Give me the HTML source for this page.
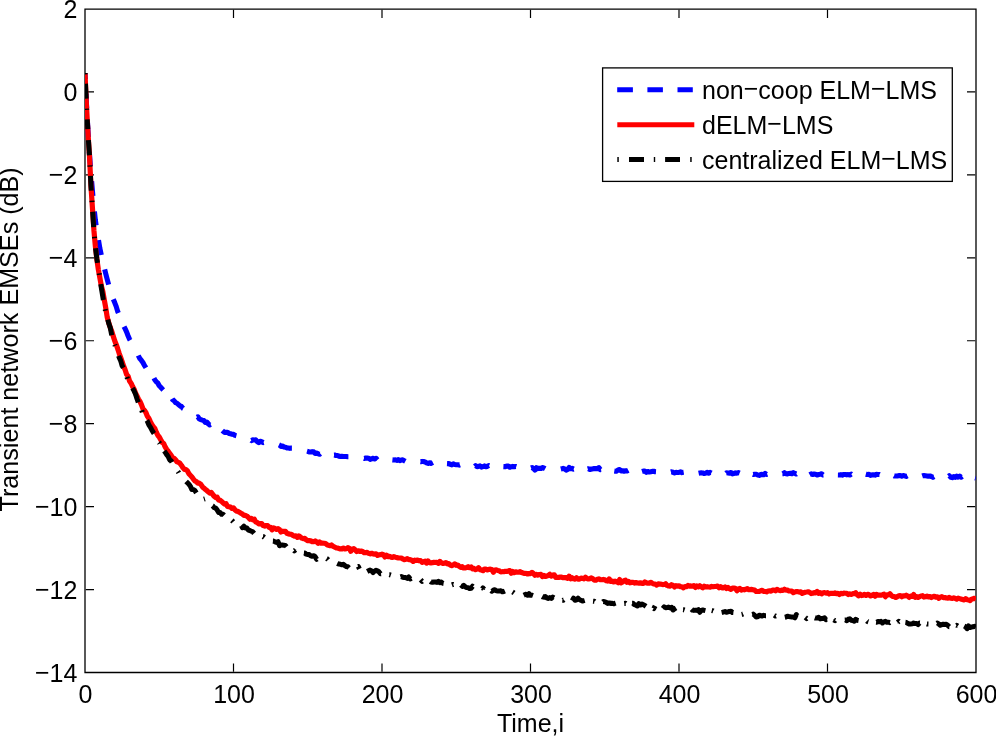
<!DOCTYPE html>
<html><head><meta charset="utf-8"><style>
html,body{margin:0;padding:0;background:#fff;}
svg{display:block;}
</style></head><body>
<svg width="996" height="737" viewBox="0 0 996 737">
<defs><clipPath id="ax"><rect x="85.0" y="9.0" width="891.0" height="663.5"/></clipPath></defs>
<rect x="0" y="0" width="996" height="737" fill="#fff"/>
<path d="M85.0 9.15H976.0V672.5H85.0Z" fill="none" stroke="#000" stroke-width="1.3"/>
<path d="M233.50 671.80 V663.50 M233.50 9.75 V18.00 M382.00 671.80 V663.50 M382.00 9.75 V18.00 M530.50 671.80 V663.50 M530.50 9.75 V18.00 M679.00 671.80 V663.50 M679.00 9.75 V18.00 M827.50 671.80 V663.50 M827.50 9.75 V18.00 M85.75 91.94 H94.00 M975.25 91.94 H967.00 M85.75 174.88 H94.00 M975.25 174.88 H967.00 M85.75 257.81 H94.00 M975.25 257.81 H967.00 M85.75 340.75 H94.00 M975.25 340.75 H967.00 M85.75 423.69 H94.00 M975.25 423.69 H967.00 M85.75 506.62 H94.00 M975.25 506.62 H967.00 M85.75 589.56 H94.00 M975.25 589.56 H967.00" stroke="#000" stroke-width="1.2" fill="none"/>
<g fill="none" stroke-linejoin="round" clip-path="url(#ax)">
<path d="M85.00 73.09L85.30 79.24M85.98 93.57L86.48 104.03L86.72 108.25M87.52 122.60L87.97 130.75L88.39 137.19M89.33 151.91L89.45 153.77L90.39 166.16M91.62 181.25L92.42 190.62L92.91 195.95M94.42 211.43L95.39 220.21L96.12 225.47M98.50 240.04L99.85 248.31L101.31 254.98M104.67 269.47L105.79 273.77L107.28 279.69L108.63 284.60M113.31 299.30L114.70 302.58L116.19 306.39L117.67 311.36L118.37 312.93M124.02 326.55L125.09 328.74L126.58 331.85L128.06 335.77L129.55 339.28L130.14 340.25M138.26 355.50L138.46 355.91L139.94 358.68L141.43 360.49L142.91 362.53L144.40 365.40L145.88 367.59L145.96 367.72M153.93 378.08L154.80 379.73L156.28 381.79L157.76 382.96L159.25 385.78L160.74 387.23L162.22 388.85L163.24 389.92M172.08 398.77L172.62 399.67L174.10 400.75L175.58 402.58L177.07 403.23L178.56 404.64L180.04 405.98L181.53 406.50L183.01 408.33L183.25 408.45M197.00 417.31L197.86 416.84L199.34 418.93L200.83 419.57L202.31 420.12L203.80 420.50L205.28 422.45L206.77 422.02L208.25 423.75L209.74 424.92L210.80 424.46M222.30 430.57L223.10 431.27L224.59 432.35L226.07 432.37L227.56 432.36L229.04 433.42L230.53 433.78L232.01 434.18L233.50 434.39L234.99 435.41L236.40 435.79M251.30 440.54L251.32 440.56L252.81 439.89L254.29 439.98L255.78 439.84L257.26 441.58L258.75 442.55L260.23 441.20L261.72 441.63L263.20 442.59L263.70 442.46M279.00 444.80L279.53 445.04L281.02 446.46L282.50 446.06L283.99 446.95L285.48 447.23L286.96 447.91L288.44 447.95L289.93 448.35L291.41 448.08L291.90 448.08M307.00 451.14L307.75 451.34L309.24 452.03L310.72 452.03L312.21 451.67L313.69 451.87L315.18 453.47L316.66 453.08L318.14 453.85L319.63 454.23L320.40 453.59M334.00 454.96L334.48 454.93L335.97 455.55L337.45 455.43L338.94 456.15L340.42 456.42L341.90 456.33L343.39 456.50L344.88 456.54L346.36 456.43L347.85 456.72L348.40 456.72M364.00 458.35L364.18 458.42L365.67 458.09L367.15 457.95L368.63 458.17L370.12 459.34L371.61 458.80L373.09 458.28L374.57 458.95L376.06 458.25L377.40 459.82M392.40 459.85L393.88 460.01L395.37 459.86L396.85 460.32L398.33 459.63L399.82 460.59L401.31 460.05L402.79 459.87L404.27 460.72L405.40 461.32M420.50 461.66L420.61 461.68L422.10 461.42L423.58 461.52L425.06 461.92L426.55 462.92L428.04 463.44L429.52 462.69L431.00 463.34L432.49 462.75L432.90 462.55M447.00 463.58L447.34 463.60L448.82 463.61L450.31 464.38L451.80 464.84L453.28 463.87L454.76 464.54L456.25 464.78L457.74 464.81L459.22 465.12L460.00 464.83M474.70 466.40L475.56 465.65L477.04 466.62L478.52 466.43L480.01 465.88L481.50 467.11L482.98 466.67L484.46 465.92L485.95 466.80L487.44 466.28L488.92 465.55L489.20 465.66M503.40 466.63L503.77 466.65L505.25 466.77L506.74 465.97L508.23 466.15L509.71 467.26L511.19 466.68L512.68 466.42L514.16 466.79L515.65 466.47L516.30 466.68M531.00 467.92L531.99 467.56L533.47 468.43L534.95 470.13L536.44 467.74L537.92 468.58L539.41 468.29L540.89 468.57L542.38 467.60L543.87 467.96L545.20 468.71M560.80 469.04L561.68 468.83L563.17 468.40L564.65 468.90L566.14 470.12L567.62 469.44L569.11 467.42L570.60 468.75L572.08 468.39L573.57 469.14L573.60 469.13M587.70 468.90L588.41 468.69L589.90 469.51L591.38 468.98L592.87 468.85L594.36 468.51L595.84 468.65L597.33 468.66L598.81 467.64L600.29 469.63L601.10 469.55M614.30 471.07L615.14 471.20L616.63 471.10L618.12 469.90L619.60 469.46L621.09 470.91L622.57 470.70L624.05 471.23L625.54 470.74L627.02 470.97L628.30 470.28M642.00 471.53L643.36 471.09L644.85 471.11L646.33 472.32L647.82 471.44L649.30 472.03L650.78 471.77L652.27 471.33L653.75 471.27L655.24 471.74L656.00 471.79M670.90 472.00L671.58 471.81L673.06 472.28L674.54 472.91L676.03 472.35L677.51 472.43L679.00 472.44L680.49 471.93L681.97 472.63L683.46 472.31L683.70 472.27M698.60 473.22L699.79 472.97L701.27 472.84L702.76 472.94L704.25 473.57L705.73 473.16L707.22 472.37L708.70 473.10L710.18 472.42L711.40 473.07M726.00 473.26L726.52 472.83L728.00 472.93L729.49 473.09L730.98 472.47L732.46 473.85L733.95 473.47L735.43 472.88L736.91 473.17L738.40 472.62L739.60 473.16M753.00 474.43L753.25 474.54L754.74 474.21L756.22 474.29L757.71 475.02L759.19 475.34L760.67 474.63L762.16 474.38L763.64 474.73L765.13 473.45L766.62 474.33L767.20 474.10M782.40 473.82L782.95 473.81L784.43 472.62L785.92 473.81L787.40 473.99L788.89 473.42L790.38 473.27L791.86 473.72L793.35 472.59L794.83 473.45L796.32 473.99L796.40 473.93M809.70 474.69L811.16 473.87L812.65 474.48L814.13 474.05L815.62 474.22L817.11 475.00L818.59 474.53L820.08 474.24L821.56 473.83L823.04 475.05L823.30 475.01M837.90 474.93L839.38 474.96L840.87 474.66L842.35 475.11L843.84 474.45L845.32 474.55L846.80 474.85L848.29 474.61L849.77 475.03L851.26 474.02L851.40 474.15M865.80 474.27L866.11 474.35L867.60 474.52L869.08 474.30L870.57 475.35L872.05 474.89L873.53 474.81L875.02 475.09L876.50 474.40L877.99 474.45L879.48 474.50L879.60 474.56M894.00 475.74L894.33 475.92L895.81 476.02L897.29 476.05L898.78 475.58L900.26 475.50L901.75 476.18L903.24 475.50L904.72 475.90L906.21 476.44L907.40 475.80M922.20 475.92L922.54 475.80L924.02 475.63L925.51 475.74L927.00 475.92L928.48 476.32L929.97 475.93L931.45 476.59L932.93 477.35L934.10 476.65M948.70 476.28L949.27 475.79L950.75 477.22L952.24 477.63L953.73 476.48L955.21 477.39L956.70 476.02L958.18 477.07L959.66 476.14L961.15 477.23L962.30 476.37M975.20 477.73L976.00 478.02" stroke="#0000ff" stroke-width="5.1"/>
<path d="M85.00 73.00L86.48 106.18L87.97 132.88L89.45 155.44L90.94 185.70L92.42 207.72L93.91 230.15L95.39 246.56L96.88 259.31L98.36 269.60L99.85 277.81L101.34 285.86L102.82 291.37L104.31 299.94L105.79 308.12L107.28 317.60L108.76 322.65L110.25 327.56L111.73 331.29L113.22 336.13L114.70 340.73L116.19 344.47L117.67 348.69L119.16 353.30L120.64 357.32L122.12 361.64L123.61 366.03L125.09 369.67L126.58 374.36L128.06 376.11L129.55 381.05L131.03 383.18L132.52 386.38L134.00 389.00L135.49 393.01L136.97 395.97L138.46 399.15L139.94 401.42L141.43 404.59L142.91 408.56L144.40 410.36L145.88 412.45L147.37 416.31L148.85 418.33L150.34 421.64L151.82 424.52L153.31 426.70L154.80 428.41L156.28 432.13L157.76 435.22L159.25 436.93L160.74 439.78L162.22 442.38L163.70 443.51L165.19 446.94L166.68 449.40L168.16 451.18L169.64 453.35L171.13 455.32L172.62 458.02L174.10 458.32L175.58 459.85L177.07 461.86L178.56 462.35L180.04 463.45L181.53 465.45L183.01 467.82L184.50 469.39L185.98 469.54L187.47 470.93L188.95 473.67L190.44 475.38L191.92 477.03L193.41 479.06L194.89 480.93L196.38 481.63L197.86 483.19L199.34 483.22L200.83 484.37L202.31 486.57L203.80 488.09L205.28 489.35L206.77 490.46L208.25 491.81L209.74 493.06L211.22 492.48L212.71 494.37L214.19 496.36L215.68 497.58L217.16 497.22L218.65 500.20L220.13 500.17L221.62 501.40L223.10 502.83L224.59 504.22L226.07 503.73L227.56 506.44L229.04 506.79L230.53 507.15L232.01 508.42L233.50 507.94L234.99 509.83L236.47 511.21L237.96 511.35L239.44 512.36L240.93 513.21L242.41 514.08L243.90 515.48L245.38 515.47L246.87 516.06L248.35 517.38L249.84 519.23L251.32 518.33L252.81 519.77L254.29 519.18L255.78 522.11L257.26 522.51L258.75 523.83L260.23 523.64L261.72 523.66L263.20 525.63L264.69 526.10L266.17 525.48L267.65 525.55L269.14 527.36L270.62 527.39L272.11 529.79L273.60 528.01L275.08 528.55L276.56 529.33L278.05 528.72L279.53 529.74L281.02 531.98L282.50 531.22L283.99 531.38L285.48 531.42L286.96 533.24L288.44 533.85L289.93 534.15L291.41 534.30L292.90 535.40L294.38 536.05L295.87 535.89L297.36 537.35L298.84 535.93L300.32 536.98L301.81 538.11L303.29 538.68L304.78 538.35L306.26 539.79L307.75 540.69L309.24 540.65L310.72 540.86L312.21 541.66L313.69 541.71L315.18 540.97L316.66 541.96L318.14 543.33L319.63 541.96L321.12 543.15L322.60 543.20L324.09 543.23L325.57 543.56L327.06 544.76L328.54 545.33L330.02 545.75L331.51 544.95L333.00 546.17L334.48 547.01L335.97 547.82L337.45 547.98L338.94 548.43L340.42 548.91L341.90 548.99L343.39 548.09L344.88 548.94L346.36 548.62L347.85 547.66L349.33 548.36L350.81 551.20L352.30 549.15L353.79 548.56L355.27 549.93L356.75 551.62L358.24 550.75L359.73 551.31L361.21 551.09L362.69 551.49L364.18 552.73L365.67 552.69L367.15 552.38L368.63 553.38L370.12 553.83L371.61 553.24L373.09 553.89L374.57 554.19L376.06 553.84L377.55 555.41L379.03 554.76L380.51 554.70L382.00 554.21L383.49 554.74L384.97 556.92L386.45 555.28L387.94 556.60L389.43 556.26L390.91 557.09L392.39 557.37L393.88 556.61L395.37 557.16L396.85 557.65L398.33 557.88L399.82 557.99L401.31 558.02L402.79 558.90L404.27 559.62L405.76 559.31L407.25 558.65L408.73 559.68L410.21 559.68L411.70 560.19L413.19 561.39L414.67 560.17L416.15 560.52L417.64 560.12L419.12 560.73L420.61 560.71L422.10 562.40L423.58 561.66L425.06 561.19L426.55 563.09L428.04 560.94L429.52 562.61L431.00 562.85L432.49 562.68L433.98 562.23L435.46 562.46L436.94 562.46L438.43 563.40L439.92 561.39L441.40 562.84L442.88 563.49L444.37 563.18L445.86 562.53L447.34 563.85L448.82 563.71L450.31 565.03L451.80 565.69L453.28 564.99L454.76 563.83L456.25 565.28L457.74 565.01L459.22 566.37L460.70 567.30L462.19 566.57L463.68 568.01L465.16 567.89L466.64 567.57L468.13 566.74L469.62 567.73L471.10 566.90L472.58 568.88L474.07 568.48L475.56 569.59L477.04 569.04L478.52 567.68L480.01 569.67L481.50 570.04L482.98 570.70L484.46 568.99L485.95 569.16L487.44 569.98L488.92 569.31L490.40 569.20L491.89 569.51L493.38 572.20L494.86 570.05L496.35 569.89L497.83 570.39L499.31 570.82L500.80 571.84L502.29 571.72L503.77 571.73L505.25 571.33L506.74 571.52L508.23 571.08L509.71 570.59L511.19 573.18L512.68 571.55L514.16 572.70L515.65 571.89L517.13 572.17L518.62 572.26L520.11 571.53L521.59 572.57L523.08 573.03L524.56 573.49L526.05 573.41L527.53 573.94L529.01 573.60L530.50 573.57L531.99 572.37L533.47 573.56L534.95 575.21L536.44 574.40L537.92 575.06L539.41 574.55L540.89 574.41L542.38 576.51L543.87 575.51L545.35 576.48L546.84 575.98L548.32 575.57L549.81 574.36L551.29 576.16L552.77 575.17L554.26 574.88L555.75 577.46L557.23 577.27L558.71 577.37L560.20 577.11L561.68 577.21L563.17 577.68L564.65 577.64L566.14 577.72L567.62 578.32L569.11 576.20L570.60 578.66L572.08 577.70L573.57 578.83L575.05 579.14L576.54 577.81L578.02 579.03L579.50 579.08L580.99 578.10L582.48 578.28L583.96 578.79L585.44 577.20L586.93 578.51L588.41 579.02L589.90 578.64L591.38 577.90L592.87 578.82L594.36 580.24L595.84 580.20L597.33 579.29L598.81 578.92L600.29 579.61L601.78 579.77L603.26 579.44L604.75 579.84L606.24 580.68L607.72 581.07L609.21 578.88L610.69 581.45L612.17 581.03L613.66 581.90L615.14 581.23L616.63 581.70L618.12 582.67L619.60 579.56L621.09 582.85L622.57 581.96L624.05 580.64L625.54 580.12L627.02 582.28L628.51 581.41L630.00 582.90L631.48 582.41L632.97 582.23L634.45 583.08L635.93 582.58L637.42 583.03L638.90 583.16L640.39 582.88L641.88 583.29L643.36 583.37L644.85 581.96L646.33 582.84L647.82 583.07L649.30 583.03L650.78 582.33L652.27 583.20L653.75 584.00L655.24 584.07L656.73 585.18L658.21 583.86L659.70 584.15L661.18 584.22L662.66 584.55L664.15 584.50L665.63 583.75L667.12 585.43L668.61 585.99L670.09 586.18L671.58 584.73L673.06 585.44L674.54 586.96L676.03 585.68L677.51 586.08L679.00 585.81L680.49 586.70L681.97 586.75L683.46 587.77L684.94 586.56L686.42 586.59L687.91 585.48L689.39 586.10L690.88 585.95L692.37 586.26L693.85 585.61L695.34 587.42L696.82 585.86L698.30 586.82L699.79 585.77L701.27 586.92L702.76 587.86L704.25 586.15L705.73 587.00L707.22 586.72L708.70 586.99L710.18 587.12L711.67 586.41L713.15 586.76L714.64 586.52L716.12 586.40L717.61 586.17L719.10 587.78L720.58 586.69L722.07 587.80L723.55 587.87L725.03 586.94L726.52 588.55L728.00 587.39L729.49 588.62L730.98 589.39L732.46 588.06L733.95 588.10L735.43 588.26L736.91 590.70L738.40 588.99L739.88 588.50L741.37 590.09L742.86 589.54L744.34 589.78L745.83 589.26L747.31 588.54L748.79 589.74L750.28 589.66L751.76 589.40L753.25 589.90L754.74 590.12L756.22 591.46L757.71 591.48L759.19 591.43L760.67 590.76L762.16 590.29L763.64 591.40L765.13 591.50L766.62 591.84L768.10 591.04L769.59 590.87L771.07 591.05L772.55 590.05L774.04 590.00L775.52 590.88L777.01 589.42L778.50 590.13L779.98 590.64L781.47 590.19L782.95 590.30L784.43 589.24L785.92 590.03L787.40 590.09L788.89 590.91L790.38 591.03L791.86 591.03L793.35 592.61L794.83 591.93L796.32 591.59L797.80 591.57L799.28 592.12L800.77 591.84L802.25 593.45L803.74 592.76L805.23 592.21L806.71 592.01L808.20 591.77L809.68 592.37L811.16 593.52L812.65 593.23L814.13 592.63L815.62 592.80L817.11 591.43L818.59 593.31L820.08 592.65L821.56 593.81L823.04 592.76L824.53 592.59L826.01 593.12L827.50 592.57L828.99 593.99L830.47 593.29L831.96 593.39L833.44 593.40L834.92 592.96L836.41 593.59L837.89 593.41L839.38 594.56L840.87 593.42L842.35 593.69L843.84 593.15L845.32 593.26L846.80 593.37L848.29 594.55L849.77 593.77L851.26 594.47L852.75 593.70L854.23 593.73L855.72 592.74L857.20 594.78L858.68 595.76L860.17 594.27L861.65 595.55L863.14 595.25L864.62 594.29L866.11 595.40L867.60 594.33L869.08 594.83L870.57 595.96L872.05 595.27L873.53 594.38L875.02 596.22L876.50 594.49L877.99 595.17L879.48 595.07L880.96 595.22L882.45 594.76L883.93 594.23L885.41 596.69L886.90 594.74L888.38 594.81L889.87 593.74L891.36 595.53L892.84 596.39L894.33 596.50L895.81 597.49L897.29 596.64L898.78 595.91L900.26 595.69L901.75 596.73L903.24 595.76L904.72 595.98L906.21 595.23L907.69 596.04L909.17 597.41L910.66 596.05L912.14 596.45L913.63 594.56L915.12 597.25L916.60 596.64L918.09 597.44L919.57 596.69L921.05 595.99L922.54 595.69L924.02 597.06L925.51 596.75L927.00 596.15L928.48 596.84L929.97 596.51L931.45 597.52L932.93 596.79L934.42 596.29L935.90 597.15L937.39 596.89L938.88 598.39L940.36 597.11L941.85 596.60L943.33 597.57L944.82 597.52L946.30 598.00L947.78 598.10L949.27 597.40L950.75 598.27L952.24 598.42L953.73 597.85L955.21 598.48L956.70 599.20L958.18 598.11L959.66 598.60L961.15 599.14L962.63 599.47L964.12 599.91L965.61 598.60L967.09 599.75L968.58 599.97L970.06 600.60L971.54 599.20L973.03 598.82L974.51 598.33L976.00 599.73" stroke="#ff0000" stroke-width="5.2"/>
<path d="M85.00 73.10L85.07 74.49M85.48 83.65L86.14 98.58M86.62 108.64L86.70 110.00M87.21 119.29L87.77 129.22M88.44 140.08L89.44 155.24M89.94 165.33L90.00 166.60M90.46 175.86L90.94 185.69L91.27 190.61M91.94 200.62L92.04 202.16M92.67 211.72L93.67 227.08M94.47 236.81L94.60 238.27M95.54 248.19L96.88 258.82L97.51 262.86M99.17 273.43L99.39 274.89M100.78 284.08L101.34 287.88L102.82 296.87L103.36 300.00M105.13 309.23L105.44 310.66M107.80 319.61L108.76 323.31L110.25 327.58L111.72 335.20M114.77 344.56L115.23 345.74M118.55 355.85L119.16 357.41L120.64 360.63L122.12 365.73L123.37 367.83M126.91 376.96L127.51 378.87M132.40 388.11L132.52 388.29L134.00 390.68L135.49 394.08L136.97 398.75L138.27 402.27M141.70 410.20L142.32 412.15M146.88 420.41L147.37 421.21L148.85 424.86L150.34 427.09L151.82 429.95L153.31 432.51L154.00 433.43M158.91 442.37L159.25 442.69L159.69 443.55M164.18 450.95L165.19 452.25L166.68 454.62L168.16 456.50L169.64 459.85L171.13 460.84L171.95 462.25M177.86 471.49L178.56 472.46L178.75 472.85M186.12 481.41L187.47 482.80L188.95 484.28L190.44 486.42L191.92 489.59L193.41 489.44L194.89 490.51L196.35 492.90M203.83 499.19L204.96 498.84M212.54 505.75L212.71 505.85L214.19 507.72L215.68 508.16L217.16 509.96L218.65 512.57L220.13 512.51L221.62 514.34L223.10 514.32L224.13 515.31M231.86 520.29L232.01 520.42L233.14 521.82M241.44 525.69L242.41 527.68L243.90 526.17L245.38 527.96L246.87 528.05L248.35 530.05L249.84 530.49L251.32 531.16L252.81 531.84L254.13 533.39M263.02 536.57L263.20 536.59L264.38 537.50M272.91 541.07L273.60 541.09L275.08 541.92L276.56 542.46L278.05 541.62L279.53 545.78L281.02 545.09L282.50 545.04L283.99 545.35L285.48 545.45L286.50 546.73M294.20 550.59L294.38 550.81L295.60 549.86M303.90 552.92L304.78 552.99L306.26 554.19L307.75 554.54L309.24 554.56L310.72 555.84L312.21 556.27L313.69 555.69L315.18 556.67L316.66 559.33L317.00 559.05M326.68 558.48L327.06 558.66L328.12 559.93M337.20 563.53L337.45 563.64L338.94 564.11L340.42 564.26L341.90 564.81L343.39 564.22L344.88 565.63L346.36 566.49L347.85 566.76L349.00 567.97M357.97 566.49L358.24 566.42L359.43 568.80M367.20 571.56L368.63 570.78L370.12 570.05L371.61 570.91L373.09 572.61L374.57 571.09L376.06 570.30L377.55 570.86L379.03 571.91L380.51 573.85L381.00 573.78M389.36 574.66L389.43 574.66L390.84 575.13M400.50 576.88L401.31 576.61L402.79 577.27L404.27 577.61L405.76 577.60L407.25 578.44L408.73 576.94L410.21 579.00L411.70 578.43M420.66 579.72L422.10 581.32L422.14 581.28M430.40 581.47L431.00 581.96L432.49 582.27L433.98 581.99L435.46 582.04L436.94 582.40L438.43 581.36L439.92 582.77L441.40 582.14L442.88 583.35L443.60 583.46M451.86 584.89L453.28 584.38L453.34 584.40M461.10 584.94L462.19 586.33L463.68 585.37L465.16 586.78L466.64 587.62L468.13 587.66L469.62 588.60L471.10 588.33L472.58 586.23L472.90 586.53M482.55 588.82L482.98 587.95L484.05 589.36M491.10 590.58L491.89 591.25L493.38 590.22L494.86 589.69L496.35 590.86L497.83 591.09L499.31 591.06L500.80 590.71L502.29 591.85L503.77 591.48L504.90 590.98M512.56 591.81L512.68 591.88L514.04 592.90M523.70 595.14L524.56 594.73L526.05 594.19L527.53 595.21L529.01 593.60L530.50 595.32L531.99 595.15L533.00 595.50M542.10 596.62L542.38 596.77L543.87 597.24L545.35 596.43L546.84 597.88L548.32 598.50L549.81 597.52L551.29 598.47L552.77 597.03L554.00 597.79M562.35 600.19L563.17 600.26L563.85 599.70M572.20 600.66L573.57 598.16L575.05 600.28L576.54 599.82L578.02 598.21L579.50 599.73L580.99 600.28L582.48 601.03L583.96 600.66L584.70 600.44M593.05 601.25L594.36 601.36L594.55 601.54M602.90 601.92L603.26 601.58L604.75 601.77L606.24 602.34L607.72 603.38L609.21 602.94L610.69 603.46L612.17 603.20L613.66 603.80L615.14 603.23L615.70 603.05M624.25 603.50L625.54 603.31L625.75 603.48M632.10 603.16L632.97 603.14L634.45 604.66L635.93 605.18L637.42 605.93L638.90 603.64L640.39 605.03L641.88 604.07L643.36 604.80L644.85 605.54L646.00 606.37M653.65 608.48L653.75 608.55L655.15 605.90M662.80 608.47L664.15 606.83L665.63 607.71L667.12 607.47L668.61 607.11L670.09 607.94L671.58 607.30L673.06 609.95L674.54 608.77L676.00 607.85M683.05 609.69L683.46 609.71L684.55 610.09M691.50 609.28L692.37 610.12L693.85 610.40L695.34 610.15L696.82 610.41L698.30 609.69L699.79 612.28L701.27 610.33L702.76 609.97L704.25 610.34L705.40 610.62M711.75 610.53L713.15 610.89L713.25 610.95M721.60 612.45L722.07 612.35L723.55 612.04L725.03 611.47L726.52 612.27L728.00 611.93L729.49 611.36L730.98 611.19L732.46 612.53L733.40 612.61M741.66 614.44L742.86 614.17L743.14 614.05M752.10 614.44L753.25 614.13L754.74 615.39L756.22 616.98L757.71 616.87L759.19 615.24L760.67 615.55L762.16 616.03L763.64 615.32L765.13 615.66L766.00 615.66M774.25 615.23L775.52 616.09L775.75 615.98M784.80 617.26L785.92 617.01L787.40 616.28L788.89 616.57L790.38 616.79L791.86 616.97L793.35 617.14L794.83 617.89L796.32 614.57L797.30 615.81M805.35 617.41L806.71 618.57L806.85 618.46M814.80 617.82L815.62 618.10L817.11 617.93L818.59 617.28L820.08 618.86L821.56 618.47L823.04 618.45L824.53 617.88L826.01 619.72L827.30 619.62M833.65 619.97L834.92 620.72L835.15 620.42M844.80 619.95L845.32 619.91L846.80 620.71L848.29 619.22L849.77 618.81L851.26 620.28L852.75 620.60L854.23 621.28L855.72 619.27L857.20 620.32L858.60 620.57M866.85 620.95L867.60 621.66L868.35 621.89M876.10 622.20L876.50 622.25L877.99 621.57L879.48 621.86L880.96 621.37L882.45 622.91L883.93 621.80L885.41 621.35L886.90 622.22L888.38 622.19L889.87 622.63L889.90 622.61M897.55 622.40L898.78 621.30L899.05 621.52M905.40 622.29L906.21 622.40L907.69 623.28L909.17 624.07L910.66 624.04L912.14 623.88L913.63 623.02L915.12 623.52L916.60 623.42L918.09 624.56L919.57 623.05L919.90 623.08M926.95 623.88L927.00 623.90L928.45 623.95M936.80 623.29L937.39 622.95L938.88 624.01L940.36 625.29L941.85 624.69L943.33 624.14L944.82 624.58L946.30 624.30L947.78 625.35L949.27 626.85L949.30 626.85M956.25 625.45L956.70 625.26L957.75 625.97M964.20 626.04L965.61 626.80L967.09 628.70L968.58 625.87L970.06 627.47L971.54 627.14L973.03 626.71L974.51 626.33L976.00 627.03" stroke="#000" stroke-width="5"/>
</g>
<g font-family="'Liberation Sans', Arial, Helvetica, sans-serif" font-size="25" fill="#000">
<text x="85.50" y="702.6" text-anchor="middle">0</text><text x="234.00" y="702.6" text-anchor="middle">100</text><text x="382.50" y="702.6" text-anchor="middle">200</text><text x="531.00" y="702.6" text-anchor="middle">300</text><text x="679.50" y="702.6" text-anchor="middle">400</text><text x="828.00" y="702.6" text-anchor="middle">500</text><text x="976.50" y="702.6" text-anchor="middle">600</text>
<text x="77.3" y="18.30" text-anchor="end">2</text><text x="77.3" y="101.24" text-anchor="end">0</text><text x="77.3" y="184.18" text-anchor="end"><tspan dy="-1.2">−</tspan><tspan dy="1.2">2</tspan></text><text x="77.3" y="267.11" text-anchor="end"><tspan dy="-1.2">−</tspan><tspan dy="1.2">4</tspan></text><text x="77.3" y="350.05" text-anchor="end"><tspan dy="-1.2">−</tspan><tspan dy="1.2">6</tspan></text><text x="77.3" y="432.99" text-anchor="end"><tspan dy="-1.2">−</tspan><tspan dy="1.2">8</tspan></text><text x="77.3" y="515.92" text-anchor="end"><tspan dy="-1.2">−</tspan><tspan dy="1.2">10</tspan></text><text x="77.3" y="598.86" text-anchor="end"><tspan dy="-1.2">−</tspan><tspan dy="1.2">12</tspan></text><text x="77.3" y="681.80" text-anchor="end"><tspan dy="-1.2">−</tspan><tspan dy="1.2">14</tspan></text>
<text x="530.5" y="732.2" text-anchor="middle">Time,i</text>
<text transform="translate(17.8 339.4) rotate(-90)" text-anchor="middle" font-size="25.15">Transient network EMSEs (dB)</text>
</g>
<rect x="602.6" y="67.9" width="349.7" height="113.5" fill="#fff" stroke="#000" stroke-width="1.3"/>
<path d="M617.2 89.8H632.9M647.4 89.8H662.9M677.5 89.8H692.8" stroke="#0000ff" stroke-width="5.1" fill="none"/>
<path d="M617.3 124.75H694.3" stroke="#ff0000" stroke-width="5.2" fill="none"/>
<path d="M617.3 159.5H618.8M629 159.5H644M653.8 159.5H655.2M665.1 159.5H680M690.2 159.5H691.7" stroke="#000" stroke-width="5" fill="none"/>
<g font-family="'Liberation Sans', Arial, Helvetica, sans-serif" font-size="25" fill="#000">
<text x="702" y="98.5">non<tspan dy="-1.2">−</tspan><tspan dy="1.2">coop ELM</tspan><tspan dy="-1.2">−</tspan><tspan dy="1.2">LMS</tspan></text>
<text x="702" y="133.5">dELM<tspan dy="-1.2">−</tspan><tspan dy="1.2">LMS</tspan></text>
<text x="702" y="168.5">centralized ELM<tspan dy="-1.2">−</tspan><tspan dy="1.2">LMS</tspan></text>
</g>
</svg>
</body></html>
